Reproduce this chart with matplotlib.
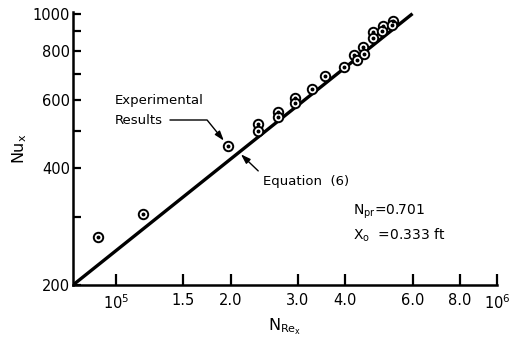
import numpy as np
import matplotlib.pyplot as plt
from matplotlib.ticker import FixedLocator, NullFormatter

# local Nusselt number vs local Reynolds number (flat plate, air)
re_exp = [0.897e5, 1.177e5, 1.968e5, 2.359e5, 2.359e5, 2.662e5, 2.662e5,
          2.950e5, 2.950e5, 3.269e5, 3.537e5, 3.967e5, 4.214e5, 4.290e5,
          4.449e5, 4.470e5, 4.727e5, 4.727e5, 5.020e5, 4.980e5, 5.330e5, 5.300e5]
nu_exp = [266, 305, 456, 519, 498, 558, 542,
          607, 589, 640, 692, 730, 784, 761,
          822, 789, 899, 868, 927, 905, 960, 935]

# Equation (6) line end points
eq_re = [7.7e4, 6.0e5]
eq_nu = [200, 1000]

x_ticks = [1e5, 1.5e5, 2e5, 3e5, 4e5, 6e5, 8e5, 1e6]
x_labels = [r'$\mathregular{10^5}$', '1.5', '2.0', '3.0', '4.0', '6.0', '8.0',
            r'$\mathregular{10^6}$']
y_major = [200, 400, 600, 800, 1000]
y_minor = [300, 500, 700, 900]

fig = plt.figure(figsize=(5.12, 3.43), dpi=100)
ax = fig.add_axes([0.1426, 0.1691, 0.8281, 0.7959])

ax.set_xscale('log')
ax.set_yscale('log')
ax.set_xlim(7.7e4, 1e6)
ax.set_ylim(200, 1010)

# correlation line
ax.plot(eq_re, eq_nu, color='black', lw=2.4, solid_capstyle='butt')

# experimental points: open circle with a centre dot
ax.plot(re_exp, nu_exp, 'o', ms=6.8, mfc='white', mec='black', mew=1.4, ls='none')
ax.plot(re_exp, nu_exp, 'o', ms=1.8, color='black', ls='none')

# axes styling
for side in ['top', 'right']:
    ax.spines[side].set_visible(False)
for side in ['left', 'bottom']:
    ax.spines[side].set_linewidth(1.8)

ax.xaxis.set_major_locator(FixedLocator(x_ticks))
ax.set_xticklabels(x_labels)
ax.xaxis.set_minor_locator(FixedLocator([]))
ax.yaxis.set_major_locator(FixedLocator(y_major))
ax.set_yticklabels([str(v) for v in y_major])
ax.yaxis.set_minor_locator(FixedLocator(y_minor))
ax.yaxis.set_minor_formatter(NullFormatter())

ax.tick_params(axis='x', which='major', direction='in', length=8, width=1.6,
               labelsize=10.5, pad=6)
ax.tick_params(axis='y', which='major', direction='in', length=6, width=1.6,
               labelsize=10.5, pad=2)
ax.tick_params(axis='y', which='minor', direction='in', length=6, width=1.6)

ax.set_xlabel(r'$\mathregular{N_{Re_x}}$', fontsize=11.5, labelpad=3)
ax.set_ylabel(r'$\mathregular{Nu_x}$', fontsize=11.5, labelpad=3)

# annotations
fig.text(115 / 512, 1 - 100 / 343, 'Experimental', fontsize=9.5, ha='left', va='center')
ax.annotate('Results', xy=(re_exp[2], nu_exp[2]),
            xytext=(115, 343 - 120), textcoords='figure pixels',
            fontsize=9.5, ha='left', va='center',
            arrowprops=dict(arrowstyle='-|>,head_length=0.6,head_width=0.2',
                            color='black', lw=1,
                            connectionstyle='angle,angleA=0,angleB=129,rad=0',
                            relpos=(1, 0.5), shrinkA=3, shrinkB=5))

eq_x = 2.1e5
eq_y = eq_nu[0] * (eq_x / eq_re[0]) ** (np.log(eq_nu[1] / eq_nu[0]) / np.log(eq_re[1] / eq_re[0]))
ax.annotate('Equation  (6)', xy=(eq_x, eq_y),
            xytext=(263, 343 - 182), textcoords='figure pixels',
            fontsize=9.5, ha='left', va='center',
            arrowprops=dict(arrowstyle='-|>,head_length=0.6,head_width=0.2',
                            color='black', lw=1, relpos=(0, 1),
                            shrinkA=2, shrinkB=2))

fig.text(353 / 512, 1 - 212 / 343, r'$\mathregular{N_{pr}}$=0.701', fontsize=10,
         ha='left', va='center')
fig.text(353 / 512, 1 - 235 / 343, r'$\mathregular{X_o}$  =0.333 ft', fontsize=10,
         ha='left', va='center')

fig.savefig('out.png', dpi=100)
